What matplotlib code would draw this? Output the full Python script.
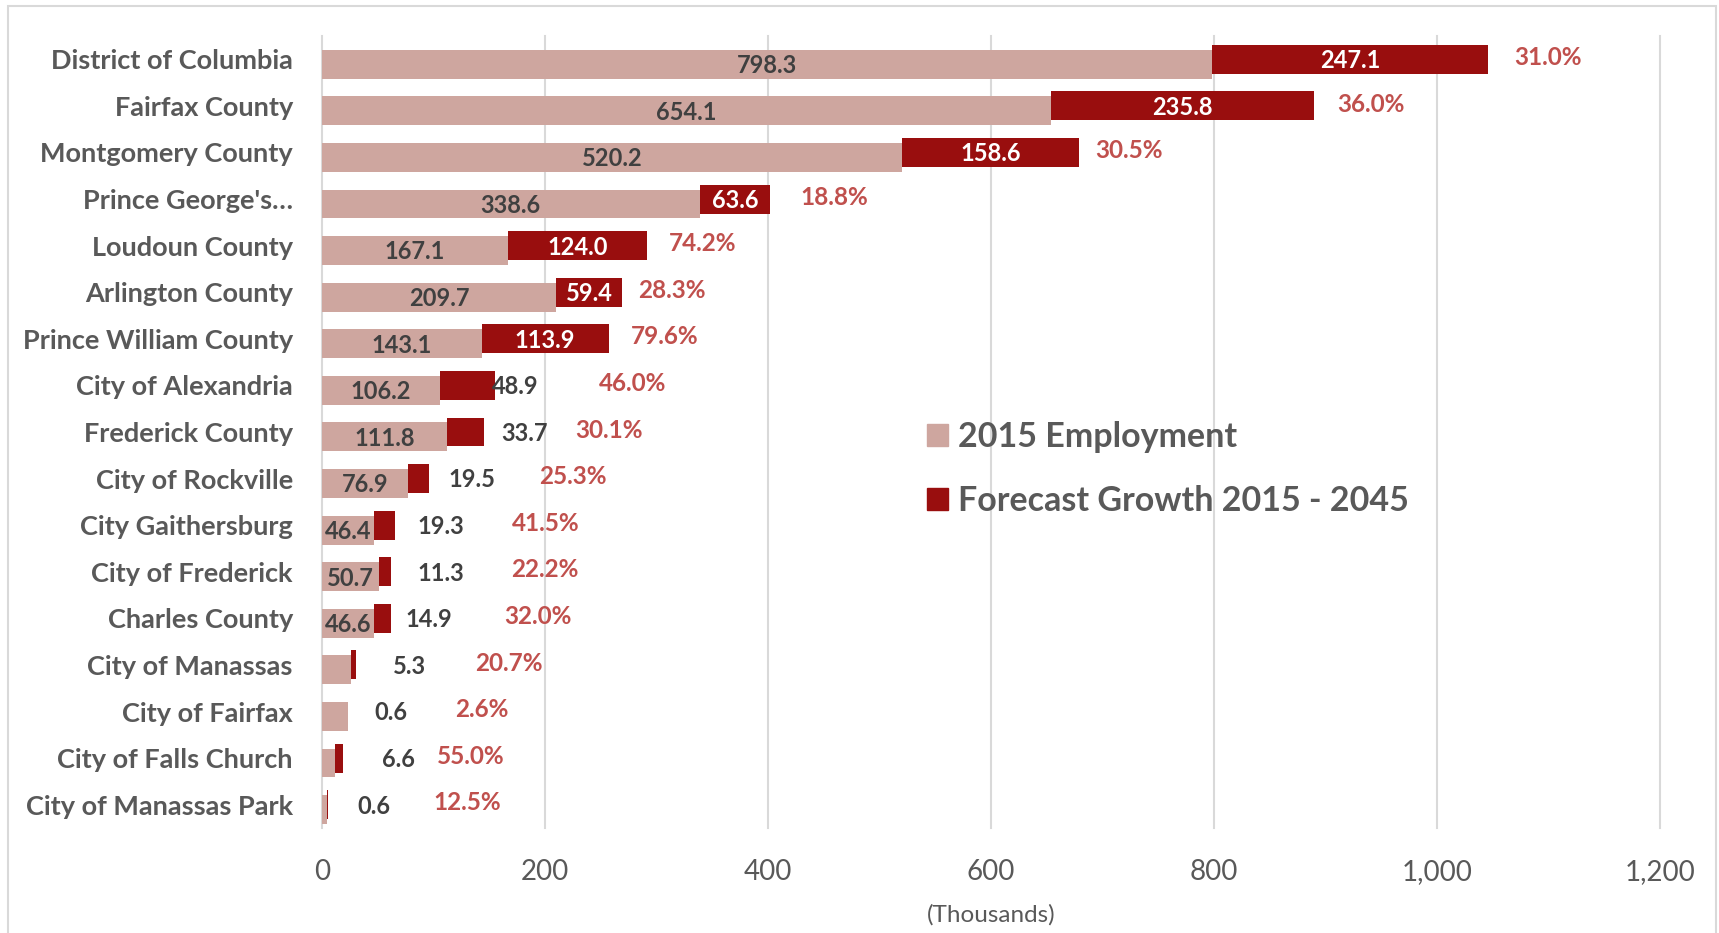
import numpy as np
import matplotlib
matplotlib.use('Agg')
import matplotlib.pyplot as plt
from matplotlib.patches import Patch, Rectangle

plt.rcParams['font.family'] = ['Lato', 'DejaVu Sans']

# data (thousands of jobs), top row first
counties = ["District of Columbia", "Fairfax County", "Montgomery County", "Prince George's\u2026",
            "Loudoun County", "Arlington County", "Prince William County", "City of Alexandria",
            "Frederick County", "City of Rockville", "City Gaithersburg", "City of Frederick",
            "Charles County", "City of Manassas", "City of Fairfax", "City of Falls Church",
            "City of Manassas Park"]
emp_2015 = [798.3, 654.1, 520.2, 338.6, 167.1, 209.7, 143.1, 106.2, 111.8, 76.9,
            46.4, 50.7, 46.6, 25.6, 23.1, 12.0, 4.8]
growth = [247.1, 235.8, 158.6, 63.6, 124.0, 59.4, 113.9, 48.9, 33.7, 19.5,
          19.3, 11.3, 14.9, 5.3, 0.6, 6.6, 0.6]
growth_pct = ["31.0%", "36.0%", "30.5%", "18.8%", "74.2%", "28.3%", "79.6%", "46.0%", "30.1%",
              "25.3%", "41.5%", "22.2%", "32.0%", "20.7%", "2.6%", "55.0%", "12.5%"]
x_ticks = [0, 200, 400, 600, 800, 1000, 1200]

# label placement (offsets from bar end, in thousands) as in the original layout
n_inside = 7            # rows whose growth label sits inside the red bar
n_emp_labels = 13       # rows that show the 2015 value
val_nudge = [18, 36.5, 38, 40.7, 44.7, 34.5, 47.8, 38.3, 49.8, 41.2]
pct_nudge = [54, 51, 45, 57, 50, 45, 50.6, 123.6, 111.7, 128.6, 135, 137.4, 132, 137, 120, 115, 125]

PINK = '#CEA69F'
RED = '#990E0E'
PCT_RED = '#C0504D'
DARK = '#404040'
GRAY = '#595959'

W, H = 1719, 933
fig = plt.figure(figsize=(W / 100, H / 100), dpi=100)
ax = fig.add_axes([322 / W, 1 - 828 / H, (1660 - 322) / W, (828 - 36) / H])

# light outer frame of the chart area
fig.patches.append(Rectangle((8 / W, -0.05), (1716 - 8) / W, 1.05 - 6.5 / H,
                             transform=fig.transFigure, fill=False, ec='#D9D9D9', lw=1.5))

y = np.arange(len(counties))
emp = np.array(emp_2015)
gro = np.array(growth)
total = emp + gro
bh = 0.62
shift = 0.105

ax.barh(y + shift, emp, height=bh, color=PINK, label='2015 Employment')
ax.barh(y, gro, left=emp, height=bh, color=RED, label='Forecast Growth 2015 - 2045')

for i in range(len(counties)):
    if i < n_emp_labels:
        ax.text(emp[i] / 2, y[i] + shift + 0.03, f"{emp[i]:.1f}", ha='center', va='center',
                fontsize=17, fontweight='bold', color=DARK)
    if i < n_inside:
        ax.text(emp[i] + gro[i] / 2, y[i] + 0.03, f"{gro[i]:.1f}", ha='center', va='center',
                fontsize=17, fontweight='bold', color='white')
    else:
        ax.text(total[i] + val_nudge[i - n_inside], y[i] + 0.03, f"{gro[i]:.1f}", ha='center',
                va='center', fontsize=17, fontweight='bold', color=DARK)
    ax.text(total[i] + pct_nudge[i], y[i] - 0.04, growth_pct[i], ha='center', va='center',
            fontsize=17.5, fontweight='bold', color=PCT_RED)

ax.set_xlim(0, 1200)
ax.set_ylim(len(counties) - 0.5, -0.5)
ax.set_xticks(x_ticks)
ax.set_xticklabels([f"{t:,}" for t in x_ticks], fontsize=20, color=GRAY)
ax.set_yticks(y)
ax.set_yticklabels(counties, fontsize=19.5, fontweight='bold', color=GRAY)
ax.tick_params(axis='both', length=0)
ax.tick_params(axis='y', pad=21)
ax.tick_params(axis='x', pad=22)
ax.xaxis.grid(True, color='#D9D9D9', lw=1.5)
for gl in ax.get_xgridlines():
    gl.set_clip_on(False)
ax.set_axisbelow(True)
for s in ax.spines.values():
    s.set_visible(False)
ax.set_xlabel('(Thousands)', fontsize=17.5, color=GRAY, labelpad=14)

handles = [Patch(color=PINK), Patch(color=RED)]
ax.legend(handles, ['2015 Employment', 'Forecast Growth 2015 - 2045'], loc='upper left',
          bbox_to_anchor=(927 / W, 1 - 421 / H), bbox_transform=fig.transFigure,
          frameon=False, prop={'size': 24.5, 'weight': 'bold'}, labelcolor=GRAY,
          handlelength=0.62, handleheight=0.62, handletextpad=0.3, labelspacing=0.95,
          borderpad=0, borderaxespad=0)

fig.savefig('out.png', dpi=100, facecolor='white')
